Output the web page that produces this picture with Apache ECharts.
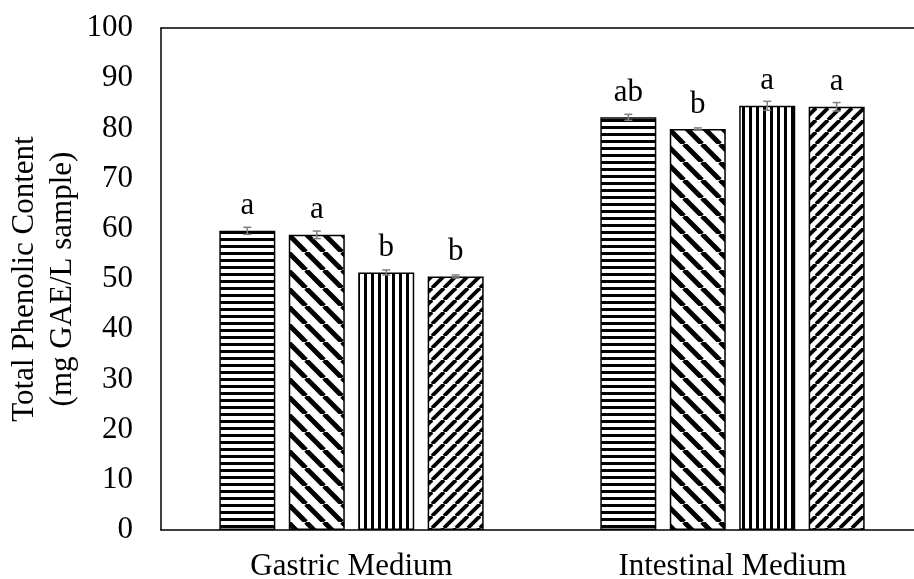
<!DOCTYPE html>
<html>
<head>
<meta charset="utf-8">
<script src="https://cdn.jsdelivr.net/npm/echarts@6/dist/echarts.min.js"></script>
<style>
html,body{margin:0;padding:0;background:#fff;}
#chart{width:914px;height:579px;}
</style>
</head>
<body>
<div id="chart"></div>
<script>
// ---- data ----
var categories = ['Gastric Medium', 'Intestinal Medium'];
var seriesNames = ['S1', 'S2', 'S3', 'S4'];
var values1 = [59.6, 82.2];
var values2 = [58.8, 79.9];
var values3 = [51.3, 84.5];
var values4 = [50.5, 84.3];
var errors1 = [0.7, 0.6];
var errors2 = [0.75, 0.2];
var errors3 = [0.5, 0.9];
var errors4 = [0.3, 0.85];
var letters1 = ['a', 'ab'];
var letters2 = ['a', 'b'];
var letters3 = ['b', 'a'];
var letters4 = ['b', 'a'];
var yTicks = [0, 10, 20, 30, 40, 50, 60, 70, 80, 90, 100];

var allValues = [values1, values2, values3, values4];
var allErrors = [errors1, errors2, errors3, errors4];
var allLetters = [letters1, letters2, letters3, letters4];

var FONT = '"Liberation Serif", "Times New Roman", serif';
var FS = 31;
var BAR_W = 0.147;   // fraction of category band
var BAR_GAP = 0.24;  // fraction of bar width

// ---- patterns ----
function makeTile(w, h, draw) {
  var c = document.createElement('canvas');
  c.width = w; c.height = h;
  var ctx = c.getContext('2d');
  ctx.fillStyle = '#fff';
  ctx.fillRect(0, 0, w, h);
  ctx.fillStyle = '#000';
  ctx.strokeStyle = '#000';
  draw(ctx, w, h);
  return { image: c, repeat: 'repeat' };
}
var patHoriz = makeTile(7, 7, function (ctx, w, h) { ctx.fillRect(0, 0, w, 3); });
var patVert = makeTile(7, 7, function (ctx, w, h) { ctx.fillRect(0, 0, 3, h); });
var patBack = makeTile(18, 18, function (ctx, p) {
  ctx.lineWidth = 5;
  for (var k = -p; k <= p; k += p) {
    ctx.beginPath(); ctx.moveTo(k, 0); ctx.lineTo(k + p, p); ctx.stroke();
  }
});
var patFwd = makeTile(12, 12, function (ctx, p) {
  ctx.lineWidth = 3.8;
  for (var k = -p; k <= p; k += p) {
    ctx.beginPath(); ctx.moveTo(k, p); ctx.lineTo(k + p, 0); ctx.stroke();
  }
});
var patterns = [patHoriz, patBack, patVert, patFwd];

var series = [];
for (var i = 0; i < 4; i++) {
  (function (si) {
    series.push({
      name: seriesNames[si],
      type: 'bar',
      data: allValues[si],
      barWidth: (BAR_W * 100) + '%',
      barGap: (BAR_GAP * 100) + '%',
      itemStyle: { color: patterns[si], borderColor: '#000', borderWidth: 1.5 },
      label: {
        show: true,
        position: 'top',
        distance: 9,
        fontFamily: FONT,
        fontSize: FS,
        lineHeight: FS,
        color: '#000',
        formatter: function (p) { return allLetters[si][p.dataIndex]; }
      },
      emphasis: { disabled: true },
      animation: false
    });
  })(i);
}

var errData = [];
for (var s = 0; s < 4; s++) {
  for (var c = 0; c < categories.length; c++) {
    errData.push([c, s, allValues[s][c], allErrors[s][c]]);
  }
}

series.push({
  type: 'custom',
  data: errData,
  encode: { x: 0, y: 2 },
  z: 10,
  silent: true,
  animation: false,
  renderItem: function (params, api) {
    var cat = api.value(0), si = api.value(1), v = api.value(2), e = api.value(3);
    var band = api.size([1, 0])[0];
    var bw = BAR_W * band, gap = BAR_GAP * bw;
    var total = 4 * bw + 3 * gap;
    var center = api.coord([cat, v])[0];
    var x = center - total / 2 + si * (bw + gap) + bw / 2;
    var yHi = api.coord([cat, v + e])[1];
    var yLo = api.coord([cat, v - e])[1];
    var cap = 4;
    var st = { stroke: '#7f7f7f', lineWidth: 1.5 };
    return {
      type: 'group',
      children: [
        { type: 'line', shape: { x1: x, y1: yHi, x2: x, y2: yLo }, style: st },
        { type: 'line', shape: { x1: x - cap, y1: yHi, x2: x + cap, y2: yHi }, style: st },
        { type: 'line', shape: { x1: x - cap, y1: yLo, x2: x + cap, y2: yLo }, style: st }
      ]
    };
  }
});

var chart = echarts.init(document.getElementById('chart'), null, { renderer: 'canvas' });
chart.setOption({
  backgroundColor: '#fff',
  animation: false,
  grid: {
    left: 161, top: 28, right: -9, bottom: 49,
    outerBoundsMode: 'none',
    containLabel: false,
    show: false
  },
  xAxis: [{
    type: 'category',
    data: categories,
    axisLine: { show: true, lineStyle: { color: '#000', width: 1.5 } },
    axisTick: { show: false },
    axisLabel: { fontFamily: FONT, fontSize: FS, lineHeight: FS, color: '#000', margin: 21 },
    splitLine: { show: false }
  }, {
    type: 'category',
    data: categories,
    position: 'top',
    axisLine: { show: true, lineStyle: { color: '#000', width: 1.5 } },
    axisTick: { show: false },
    axisLabel: { show: false },
    splitLine: { show: false }
  }],
  yAxis: {
    type: 'value',
    min: yTicks[0],
    max: yTicks[yTicks.length - 1],
    interval: yTicks[1] - yTicks[0],
    name: 'Total Phenolic Content\n(mg GAE/L sample)',
    nameLocation: 'middle',
    nameRotate: 90,
    nameGap: 79,
    nameMoveOverlap: false,
    nameTextStyle: { fontFamily: FONT, fontSize: FS, lineHeight: 38, color: '#000' },
    axisLine: { show: true, lineStyle: { color: '#000', width: 1.5 } },
    axisTick: { show: false },
    axisLabel: { fontFamily: FONT, fontSize: FS, color: '#000', margin: 28 },
    splitLine: { show: false }
  },
  series: series
});
</script>
</body>
</html>
